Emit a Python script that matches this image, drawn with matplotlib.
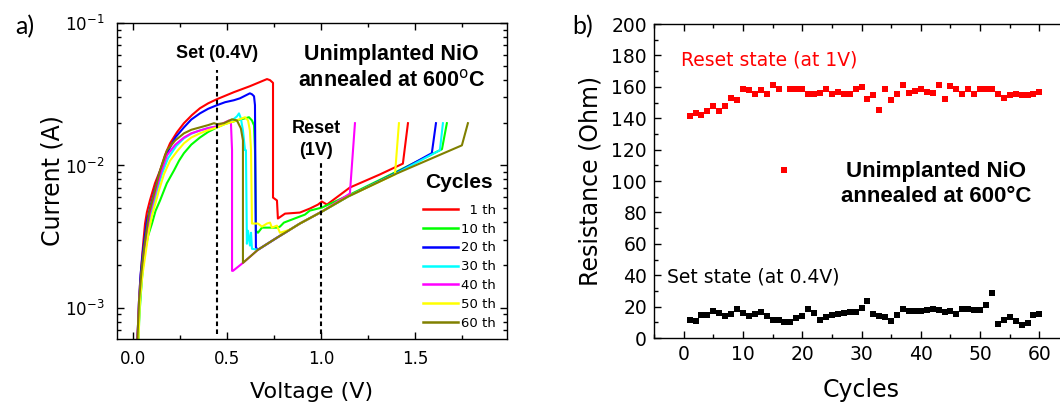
import numpy as np
import matplotlib
matplotlib.use("Agg")
import matplotlib.pyplot as plt
from matplotlib.ticker import MultipleLocator, LogLocator, NullFormatter, FormatStrFormatter

# ---- I-V sweeps (a): voltage (V) and current (A)
v_1 = [0.021, 0.032, 0.037, 0.048, 0.056, 0.064, 0.074, 0.090, 0.117, 0.144, 0.170, 0.197, 0.234, 0.271, 0.314, 0.356,
       0.400, 0.447, 0.537, 0.622, 0.713, 0.729, 0.745,
       0.745, 0.766, 0.771, 0.809, 0.888, 0.941, 0.984, 1.005, 1.032, 1.154, 1.314, 1.436, 1.463]
i_1 = [5e-4, 0.0010, 0.00143, 0.00225, 0.0030, 0.0039, 0.0047, 0.00568, 0.0075, 0.00922, 0.0118, 0.0143, 0.0171, 0.0198, 0.0226, 0.0252,
       0.0273, 0.0292, 0.0327, 0.0360, 0.0404, 0.0397, 0.0380,
       0.00595, 0.00568, 0.00424, 0.00459, 0.00467, 0.00498, 0.00531, 0.00558, 0.00531, 0.00700, 0.00865, 0.0103, 0.0198]

v_10 = [0.027, 0.032, 0.043, 0.052, 0.064, 0.080, 0.101, 0.120, 0.144, 0.180, 0.218, 0.245, 0.271, 0.310, 0.356, 0.400,
        0.447, 0.490, 0.537, 0.617, 0.633, 0.644, 0.649,
        0.654, 0.665, 0.686, 0.766, 0.782, 0.803, 0.915, 0.941, 1.005, 1.144, 1.404, 1.644, 1.670]
i_10 = [5e-4, 0.00081, 0.00132, 0.0019, 0.00252, 0.0032, 0.00391, 0.0048, 0.00568, 0.0075, 0.00922, 0.0108, 0.0122, 0.0140, 0.0157, 0.0172,
        0.0185, 0.0196, 0.0204, 0.0218, 0.0207, 0.0191, 0.0128,
        0.00348, 0.00337, 0.00366, 0.00366, 0.00372, 0.00397, 0.00452, 0.00482, 0.00506, 0.00615, 0.00907, 0.0130, 0.0198]

v_20 = [0.021, 0.032, 0.040, 0.053, 0.074, 0.101, 0.140, 0.181, 0.225, 0.271, 0.310, 0.356, 0.400, 0.447, 0.490, 0.537,
        0.569, 0.622, 0.633, 0.644, 0.649,
        0.654, 0.665, 0.766, 0.888, 1.005, 1.144, 1.404, 1.590, 1.612]
i_20 = [5e-4, 0.00112, 0.0017, 0.00252, 0.00410, 0.00568, 0.0088, 0.0122, 0.0157, 0.0185, 0.0210, 0.0232, 0.0250, 0.0265, 0.0278, 0.0287,
        0.0296, 0.0321, 0.0316, 0.0306, 0.0265,
        0.00265, 0.00256, 0.00311, 0.00391, 0.00474, 0.00605, 0.00893, 0.0122, 0.0198]

v_30 = [0.027, 0.037, 0.050, 0.064, 0.096, 0.128, 0.155, 0.186, 0.230, 0.271, 0.310, 0.356, 0.400, 0.447, 0.490, 0.527,
        0.553, 0.564, 0.574, 0.585, 0.596,
        0.601, 0.606, 0.612, 0.622, 0.628, 0.633, 0.665, 0.766, 0.888, 1.005, 1.144, 1.410, 1.633, 1.649]
i_30 = [5e-4, 0.00112, 0.0018, 0.00252, 0.00445, 0.00667, 0.0088, 0.0112, 0.0137, 0.0155, 0.0167, 0.0176, 0.0183, 0.0188, 0.0197, 0.0207,
        0.0221, 0.0232, 0.0214, 0.0176, 0.0128,
        0.0128, 0.00282, 0.00348, 0.00274, 0.00337, 0.00260, 0.00256, 0.00311, 0.00391, 0.00474, 0.00605, 0.00893, 0.0128, 0.0198]

v_40 = [0.021, 0.032, 0.045, 0.059, 0.090, 0.122, 0.150, 0.181, 0.225, 0.271, 0.310, 0.356, 0.400, 0.447, 0.480,
        0.511, 0.521, 0.527,
        0.527, 0.532, 0.585, 0.665, 0.766, 0.888, 1.005, 1.154, 1.181]
i_40 = [5e-4, 0.00112, 0.0017, 0.00252, 0.00459, 0.00667, 0.0090, 0.0118, 0.0140, 0.0157, 0.0168, 0.0176, 0.0183, 0.0188, 0.0198,
        0.0207, 0.0201, 0.0128,
        0.00182, 0.00182, 0.00207, 0.00256, 0.00311, 0.00391, 0.00474, 0.00635, 0.0198]

v_50 = [0.027, 0.037, 0.050, 0.069, 0.085, 0.101, 0.138, 0.165, 0.197, 0.235, 0.271, 0.310, 0.356, 0.400, 0.447, 0.490,
        0.537, 0.596, 0.612, 0.622, 0.628,
        0.633, 0.665, 0.686, 0.713, 0.729, 0.739, 0.766, 0.782, 0.835, 0.888, 1.005, 1.144, 1.394, 1.415]
i_50 = [5e-4, 0.00112, 0.0017, 0.00252, 0.0035, 0.00445, 0.00667, 0.0087, 0.0108, 0.0126, 0.0143, 0.0157, 0.0168, 0.0177, 0.0185, 0.0195,
        0.0204, 0.0218, 0.0207, 0.0176, 0.0128,
        0.00391, 0.00391, 0.00372, 0.00391, 0.00397, 0.00366, 0.00378, 0.00337, 0.00354, 0.00391, 0.00474, 0.00605, 0.00865, 0.0198]

v_60 = [0.021, 0.032, 0.045, 0.059, 0.085, 0.117, 0.144, 0.181, 0.225, 0.271, 0.310, 0.356, 0.400, 0.431, 0.447, 0.484,
        0.527, 0.553, 0.574, 0.585,
        0.585, 0.665, 0.766, 0.888, 1.005, 1.144, 1.404, 1.750, 1.782]
i_60 = [5e-4, 0.00112, 0.0018, 0.00265, 0.00459, 0.00667, 0.00922, 0.0128, 0.0150, 0.0168, 0.0178, 0.0185, 0.0192, 0.0198, 0.0195, 0.0198,
        0.0211, 0.0207, 0.0182, 0.0150,
        0.00207, 0.00256, 0.00311, 0.00391, 0.00474, 0.00605, 0.00879, 0.01384, 0.0198]

sweep_labels = ["  1 th", "10 th", "20 th", "30 th", "40 th", "50 th", "60 th"]
sweep_colors = ["#ff0000", "#00ff00", "#0000ff", "#00ffff", "#ff00ff", "#ffff00", "#808000"]

set_v = 0.445
reset_v = 1.0

# ---- resistance vs cycle (b)
cycles = np.arange(1, 61)
r_reset = [141.3, 143.4, 142.1, 144.9, 147.7, 144.9, 147.7, 152.6, 151.5, 158.5,
           158.1, 155.3, 157.9, 155.5, 160.9, 158.9, 107.0, 158.9, 158.5, 158.9,
           155.3, 155.5, 156.0, 158.9, 155.5, 156.4, 155.3, 155.5, 158.9, 159.6,
           152.1, 154.9, 145.3, 158.9, 151.3, 155.3, 160.9, 156.0, 157.4, 158.7,
           156.8, 156.0, 160.9, 152.3, 160.4, 158.9, 155.3, 158.9, 155.3, 158.9,
           158.3, 158.3, 155.7, 152.6, 154.5, 155.5, 154.7, 154.5, 155.5, 156.8]
r_set = [11.2, 10.8, 14.4, 14.8, 17.2, 15.7, 14.2, 15.5, 18.5, 15.7,
         14.2, 15.0, 16.8, 13.8, 11.6, 11.2, 10.1, 10.1, 12.7, 13.8,
         18.7, 16.1, 11.4, 13.5, 14.6, 15.0, 15.7, 16.6, 16.8, 19.4,
         23.7, 15.3, 14.2, 13.3, 11.0, 14.6, 18.3, 17.4, 17.2, 17.2,
         17.6, 18.3, 17.6, 16.3, 17.4, 15.3, 18.5, 18.3, 17.6, 18.0,
         20.9, 28.6, 9.2, 11.4, 13.1, 10.8, 8.4, 9.7, 14.6, 15.0]

plt.rcParams['font.family'] = ['DejaVu Sans']
plt.rcParams['axes.linewidth'] = 1.0
bold = dict(family='Liberation Sans', weight='bold')

fig = plt.figure(figsize=(10.6, 4.05), dpi=100)
ax1 = fig.add_axes([0.1104, 0.1630, 0.3679, 0.7802])
ax2 = fig.add_axes([0.617, 0.1654, 0.3915, 0.7753])

# ---------- panel a
sweeps = [(v_1, i_1), (v_10, i_10), (v_20, i_20), (v_30, i_30),
          (v_40, i_40), (v_50, i_50), (v_60, i_60)]
for (v, i), c, lab in zip(sweeps, sweep_colors, sweep_labels):
    ax1.plot(v, i, color=c, lw=1.5, label=lab, solid_joinstyle='round')

ax1.plot([set_v, set_v], [6.6e-4, 0.0467], color='black', lw=1.5, ls=(0, (2.2, 1.6)))
ax1.plot([reset_v, reset_v], [6.6e-4, 0.0105], color='black', lw=1.5, ls=(0, (2.2, 1.6)))

ax1.set_yscale('log')
ax1.set_xlim(-0.085, 1.99)
ax1.set_ylim(6.05e-4, 0.1)
ax1.xaxis.set_major_locator(MultipleLocator(0.5))
ax1.xaxis.set_major_formatter(FormatStrFormatter('%.1f'))
ax1.xaxis.set_minor_locator(MultipleLocator(0.25))
ax1.yaxis.set_major_locator(LogLocator(base=10))
ax1.yaxis.set_minor_locator(LogLocator(base=10, subs=np.arange(2, 10)))
ax1.yaxis.set_minor_formatter(NullFormatter())
ax1.tick_params(which='both', direction='in', top=True, right=True, labelsize=12)
ax1.tick_params(which='major', length=5, width=1)
ax1.tick_params(which='minor', length=3, width=1)
ax1.tick_params(axis='y', pad=9)
ax1.tick_params(axis='x', pad=8)
ax1.set_xlabel('Voltage (V)', fontsize=16, labelpad=10)
ax1.set_ylabel('Current (A)', fontsize=17, labelpad=0)

ax1.text(0.257, 0.905, 'Set (0.4V)', transform=ax1.transAxes, ha='center', va='center', fontsize=13, **bold)
ax1.text(0.703, 0.859, 'Unimplanted NiO\nannealed at 600$^{\\rm o}$C', transform=ax1.transAxes,
         ha='center', va='center', fontsize=15.5, linespacing=1.3, **bold)
ax1.text(0.510, 0.631, 'Reset\n(1V)', transform=ax1.transAxes, ha='center', va='center',
         fontsize=13, linespacing=1.35, **bold)
ax1.text(0.877, 0.494, 'Cycles', transform=ax1.transAxes, ha='center', va='center', fontsize=15, **bold)
ax1.legend(loc='upper left', bbox_to_anchor=(0.785, 0.428), frameon=False, fontsize=9.5,
           handlelength=2.65, handletextpad=0.2, labelspacing=0.44, borderpad=0, borderaxespad=0)
for line in ax1.get_legend().get_lines():
    line.set_linewidth(1.8)

# ---------- panel b
ax2.plot(cycles, r_reset, ls='none', marker='s', ms=4.5, mew=0, color='#ff0000')
ax2.plot(cycles, r_set, ls='none', marker='s', ms=4.5, mew=0, color='black')
ax2.set_xlim(-5, 65)
ax2.set_ylim(0, 200)
ax2.xaxis.set_major_locator(MultipleLocator(10))
ax2.xaxis.set_minor_locator(MultipleLocator(5))
ax2.yaxis.set_major_locator(MultipleLocator(20))
ax2.yaxis.set_minor_locator(MultipleLocator(10))
ax2.tick_params(which='both', direction='in', top=True, right=True, labelsize=13.5)
ax2.tick_params(which='major', length=5, width=1)
ax2.tick_params(which='minor', length=3, width=1)
ax2.tick_params(axis='y', pad=5)
ax2.tick_params(axis='x', pad=5)
ax2.set_xlabel('Cycles', fontsize=17, labelpad=10)
ax2.set_ylabel('Resistance (Ohm)', fontsize=17, labelpad=6)

ax2.text(0.065, 0.885, 'Reset state (at 1V)', transform=ax2.transAxes, ha='left', va='center',
         fontsize=13.5, color='#ff0000')
ax2.text(0.031, 0.194, 'Set state (at 0.4V)', transform=ax2.transAxes, ha='left', va='center',
         fontsize=13.5, color='black')
ax2.text(0.680, 0.490, 'Unimplanted NiO\nannealed at 600°C', transform=ax2.transAxes,
         ha='center', va='center', fontsize=16, linespacing=1.25, **bold)

fig.text(25 / 1060, 1 - 27 / 405, 'a)', ha='center', va='center', fontsize=18, family='Lato')
fig.text(583 / 1060, 1 - 27 / 405, 'b)', ha='center', va='center', fontsize=18, family='Lato')

fig.savefig('out.png', dpi=100)
